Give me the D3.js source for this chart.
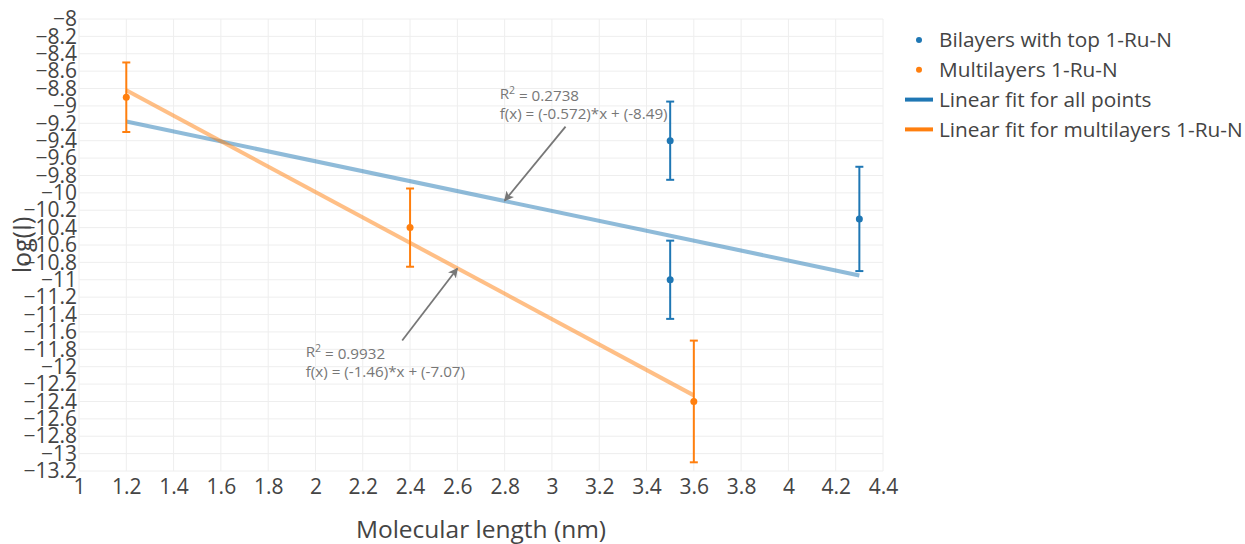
<!DOCTYPE html>
<html>
<head>
<meta charset="utf-8">
<script src="https://cdn.jsdelivr.net/npm/d3@7"></script>
<style>
  body { margin: 0; background: #fff; }
  svg { font-family: "Open Sans", sans-serif; }
</style>
</head>
<body>
<div id="chart"></div>
<script>
// data
var bilayerX = [3.5, 3.5, 4.3];
var bilayerY = [-9.4, -11.0, -10.3];
var bilayerErr = [0.45, 0.45, 0.6];

var multiX = [1.2, 2.4, 3.6];
var multiY = [-8.9, -10.4, -12.4];
var multiErr = [0.4, 0.45, 0.7];

var fitAllX = [1.2, 4.3];
var fitAllY = [-9.18, -10.95];
var fitMultiX = [1.2, 3.6];
var fitMultiY = [-8.82, -12.33];

var xTicks = [1, 1.2, 1.4, 1.6, 1.8, 2, 2.2, 2.4, 2.6, 2.8, 3, 3.2, 3.4, 3.6, 3.8, 4, 4.2, 4.4];
var yTicks = [-8, -8.2, -8.4, -8.6, -8.8, -9, -9.2, -9.4, -9.6, -9.8, -10, -10.2, -10.4, -10.6, -10.8,
              -11, -11.2, -11.4, -11.6, -11.8, -12, -12.2, -12.4, -12.6, -12.8, -13, -13.2];

var legendLabels = ["Bilayers with top 1-Ru-N", "Multilayers 1-Ru-N",
                    "Linear fit for all points", "Linear fit for multilayers 1-Ru-N"];

var annotations = [
  { x: 2.8, y: -10.09, ax: 79, ay: -96, r2: "0.2738", fx: "f(x) = (-0.572)*x + (-8.49)" },
  { x: 2.6, y: -10.87, ax: -72, ay: 94, r2: "0.9932", fx: "f(x) = (-1.46)*x + (-7.07)" }
];

var blue = "#1f77b4", orange = "#ff7f0e";

var width = 1245, height = 544;
var margin = { top: 19, right: 362, bottom: 73, left: 79 };
var plotW = width - margin.left - margin.right,
    plotH = height - margin.top - margin.bottom;

var svg = d3.select("#chart").append("svg")
    .attr("width", width)
    .attr("height", height);

var defs = svg.append("defs");
defs.append("marker")
    .attr("id", "arrowhead")
    .attr("viewBox", "0 0 10 10")
    .attr("refX", 9).attr("refY", 5)
    .attr("markerWidth", 5.5).attr("markerHeight", 5.5)
    .attr("orient", "auto")
  .append("path")
    .attr("d", "M0,0 L10,5 L0,10 L2.5,5 Z")
    .attr("fill", "#777");

var g = svg.append("g")
    .attr("transform", "translate(" + margin.left + "," + margin.top + ")");

var x = d3.scaleLinear().domain([1, 4.4]).range([0, plotW]);
var y = d3.scaleLinear().domain([-13.2, -8]).range([plotH, 0]);

function fmt(v) { return String(v).replace("-", "\u2212"); }

// grid
g.append("g").selectAll("line")
    .data(xTicks)
  .enter().append("line")
    .attr("x1", function(d) { return x(d); })
    .attr("x2", function(d) { return x(d); })
    .attr("y1", 0).attr("y2", plotH)
    .attr("stroke", "#eee").attr("stroke-width", 1);

g.append("g").selectAll("line")
    .data(yTicks)
  .enter().append("line")
    .attr("x1", 0).attr("x2", plotW)
    .attr("y1", function(d) { return y(d); })
    .attr("y2", function(d) { return y(d); })
    .attr("stroke", "#eee").attr("stroke-width", 1);

// axes (plotly look: no domain line, no ticks)
var xAxis = d3.axisBottom(x).tickValues(xTicks).tickSize(0).tickPadding(8).tickFormat(fmt);
var yAxis = d3.axisLeft(y).tickValues(yTicks).tickSize(0).tickPadding(2).tickFormat(fmt);

var gx = g.append("g")
    .attr("transform", "translate(0," + plotH + ")")
    .call(xAxis);
var gy = g.append("g").call(yAxis);

[gx, gy].forEach(function(ax) {
  ax.select(".domain").remove();
  ax.selectAll("text")
      .attr("fill", "#444")
      .style("font-family", "'Open Sans', sans-serif")
      .style("font-size", "21px");
});

// axis titles
svg.append("text")
    .attr("x", margin.left + plotW / 2)
    .attr("y", 538)
    .attr("text-anchor", "middle")
    .attr("fill", "#444")
    .style("font-size", "24.5px")
    .text("Molecular length (nm)");

svg.append("text")
    .attr("transform", "translate(31," + (margin.top + plotH / 2) + ") rotate(-90)")
    .attr("text-anchor", "middle")
    .attr("fill", "#444")
    .style("font-size", "25px")
    .text("log(I)");

// fit lines
var line = d3.line()
    .x(function(d) { return x(d[0]); })
    .y(function(d) { return y(d[1]); });

g.append("path")
    .datum(d3.zip(fitAllX, fitAllY))
    .attr("d", line)
    .attr("fill", "none")
    .attr("stroke", blue)
    .attr("stroke-opacity", 0.5)
    .attr("stroke-width", 4);

g.append("path")
    .datum(d3.zip(fitMultiX, fitMultiY))
    .attr("d", line)
    .attr("fill", "none")
    .attr("stroke", orange)
    .attr("stroke-opacity", 0.5)
    .attr("stroke-width", 4);

// points with error bars
function drawSeries(xs, ys, errs, color) {
  var data = d3.zip(xs, ys, errs);
  var s = g.append("g");
  var eb = s.selectAll(".eb").data(data).enter().append("g");
  eb.append("line")
      .attr("x1", function(d) { return x(d[0]); })
      .attr("x2", function(d) { return x(d[0]); })
      .attr("y1", function(d) { return y(d[1] + d[2]); })
      .attr("y2", function(d) { return y(d[1] - d[2]); })
      .attr("stroke", color).attr("stroke-width", 2);
  [1, -1].forEach(function(sign) {
    eb.append("line")
        .attr("x1", function(d) { return x(d[0]) - 4; })
        .attr("x2", function(d) { return x(d[0]) + 4; })
        .attr("y1", function(d) { return y(d[1] + sign * d[2]); })
        .attr("y2", function(d) { return y(d[1] + sign * d[2]); })
        .attr("stroke", color).attr("stroke-width", 2);
  });
  s.selectAll(".dot").data(data).enter().append("circle")
      .attr("cx", function(d) { return x(d[0]); })
      .attr("cy", function(d) { return y(d[1]); })
      .attr("r", 3.5)
      .attr("fill", color);
}
drawSeries(bilayerX, bilayerY, bilayerErr, blue);
drawSeries(multiX, multiY, multiErr, orange);

// annotations
annotations.forEach(function(a) {
  var hx = x(a.x), hy = y(a.y);
  var cx = hx + a.ax, cy = hy + a.ay;
  var t = g.append("text")
      .attr("fill", "#777")
      .style("font-size", "15.2px");
  var l1 = t.append("tspan").attr("x", 0).attr("y", cy - 11).attr("dy", "0.35em");
  l1.append("tspan").text("R");
  l1.append("tspan").attr("dy", "-0.45em").style("font-size", "10.5px").text("2");
  l1.append("tspan").attr("dy", "0.45em").text(" = " + a.r2);
  var l2 = t.append("tspan").attr("x", 0).attr("y", cy + 9).attr("dy", "0.35em").text(a.fx);
  var w = t.node().getBBox().width;
  var left = cx - w / 2;
  l1.attr("x", left);
  l2.attr("x", left);
  // tail on the box edge
  var hw = w / 2 + 3, hh = 22;
  var dx = hx - cx, dy = hy - cy;
  var k = Math.min(hw / Math.abs(dx), hh / Math.abs(dy));
  g.append("line")
      .attr("x1", cx + dx * k).attr("y1", cy + dy * k)
      .attr("x2", hx).attr("y2", hy)
      .attr("stroke", "#777")
      .attr("stroke-width", 1.8)
      .attr("marker-end", "url(#arrowhead)");
});

// legend
var legend = svg.append("g").attr("transform", "translate(905,40)");
var items = legend.selectAll("g").data(legendLabels)
  .enter().append("g")
    .attr("transform", function(d, i) { return "translate(0," + (i * 29.8) + ")"; });
items.each(function(d, i) {
  var it = d3.select(this);
  var c = (i % 2 === 0) ? blue : orange;
  if (i < 2) {
    it.append("circle").attr("cx", 14).attr("cy", 0).attr("r", 3).attr("fill", c);
  } else {
    it.append("line").attr("x1", 0).attr("x2", 28).attr("y1", 0).attr("y2", 0)
        .attr("stroke", c).attr("stroke-width", 4);
  }
});
items.append("text")
    .attr("x", 34)
    .attr("dy", "0.35em")
    .attr("fill", "#444")
    .style("font-size", "20.8px")
    .text(function(d) { return d; });
</script>
</body>
</html>
